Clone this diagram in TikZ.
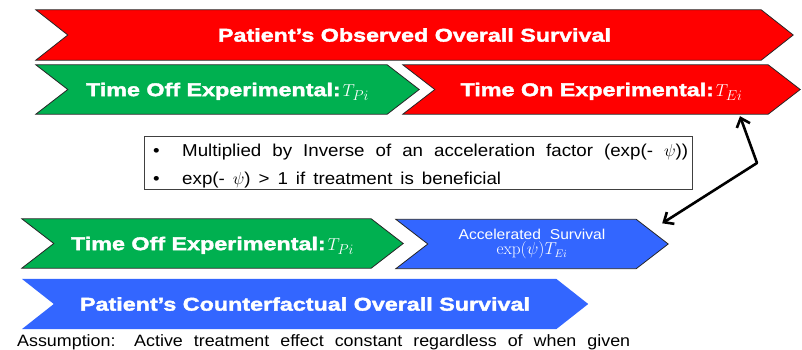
\documentclass[tikz,border=0pt]{standalone}
\usepackage[no-math]{fontspec}
\setmainfont{Liberation Sans}
\newfontfamily\bandfont{Liberation Sans Bold}[FakeStretch=1.26,FakeBold=2]
\newfontfamily\notefont{Liberation Sans}[FakeStretch=1.09]
\usetikzlibrary{arrows.meta,backgrounds}

\definecolor{bandred}{HTML}{FF0000}
\definecolor{bandgreen}{HTML}{00B050}
\definecolor{bandblue}{HTML}{3366FF}

% chevron outline around a named band node: notch on the left, point on the right
\newcommand\chevronfill[2]{%
  \path[#2] (#1.north west) -- ([xshift=-32pt]#1.north east) -- (#1.east)
    -- ([xshift=-32pt]#1.south east) -- (#1.south west)
    -- ([xshift=32pt]#1.west) -- cycle;}
% larger math symbol inside a band label
\newcommand\bandmath[1]{{\fontsize{19}{20}\selectfont$#1$}}

\begin{document}
\begin{tikzpicture}[x=1pt,y=-1pt,
  band/.style={minimum height=49pt, inner sep=0pt, text height=13.3pt, text depth=0pt,
    text=white, font=\bandfont\fontsize{18.5}{20}\selectfont},
  edged/.style={fill=#1, draw=black!85, line width=0.8pt, line join=miter},
  plain/.style={fill=#1},
  notebox/.style={draw=black!75, line width=0.8pt, fill=white, inner sep=0pt,
    minimum width=548pt, minimum height=53pt},
  notetext/.style={anchor=west, inner sep=0pt, text height=12.3pt, text depth=0pt,
    font=\notefont\fontsize{17.2}{20}\selectfont},
  conn/.style={line width=2.6pt, line join=round,
    {Straight Barb[length=8pt,width=14pt]}-{Straight Barb[length=8pt,width=14pt]}}
]
\useasboundingbox (0,0) rectangle (802,350);

% observed survival
\node[band, minimum width=757pt, minimum height=50pt] (obs) at (414.5,35)
  {Patient’s Observed Overall Survival};
\node[band, minimum width=383pt] (offA) at (227.5,89.5)
  {Time Off Experimental:\hspace{2pt}\bandmath{T_{Pi}}};
\node[band, minimum width=397pt] (onA) at (601.5,89.5)
  {Time On Experimental:\hspace{2pt}\bandmath{T_{Ei}}};

% counterfactual survival
\node[band, minimum width=381pt] (offB) at (212.5,243.5)
  {Time Off Experimental:\hspace{2pt}\bandmath{T_{Pi}}};
\node[minimum width=272pt, minimum height=49pt, inner sep=0pt, text=white,
  align=center, font=\notefont\fontsize{14.3}{16}\selectfont] (acc) at (532,244)
  {Accelerated\hspace{9pt}Survival\\[-1pt]{\fontsize{16}{16}\selectfont$\exp(\psi)T_{Ei}$}};
\node[band, minimum width=566pt, minimum height=50pt] (cf) at (305,304)
  {Patient’s Counterfactual Overall Survival};

\begin{pgfonlayer}{background}
  \chevronfill{obs}{edged=bandred}
  \chevronfill{offA}{edged=bandgreen}
  \chevronfill{onA}{edged=bandred}
  \chevronfill{offB}{edged=bandgreen}
  \chevronfill{acc}{edged=bandblue}
  \chevronfill{cf}{plain=bandblue}
\end{pgfonlayer}

% explanatory note
\node[notebox] (note) at (418,162.5) {};
\node[notetext] (b1) at (153,150) {•};
\node[notetext] (t1) at (182,150)
  {\makebox[506pt][s]{Multiplied by Inverse of an acceleration factor (exp(- $\psi$))}};
\node[notetext] (b2) at (153,178) {•};
\node[notetext] (t2) at (182,178)
  {\makebox[319pt][s]{exp(- $\psi$) > 1 if treatment is beneficial}};

% link between time on treatment and its accelerated counterpart
\coordinate (bend) at (757,163);
\draw[conn] ([xshift=138.5pt,yshift=-2pt]onA.south) -- (bend)
  -- ([xshift=-6pt,yshift=-4pt]acc.north east);

\node[anchor=base west, inner sep=0pt, font=\notefont\fontsize{16.4}{18}\selectfont]
  (assume) at (17,346.5)
  {\makebox[613pt][s]{Assumption: Active treatment effect constant regardless of when given}};
\end{tikzpicture}
\end{document}
